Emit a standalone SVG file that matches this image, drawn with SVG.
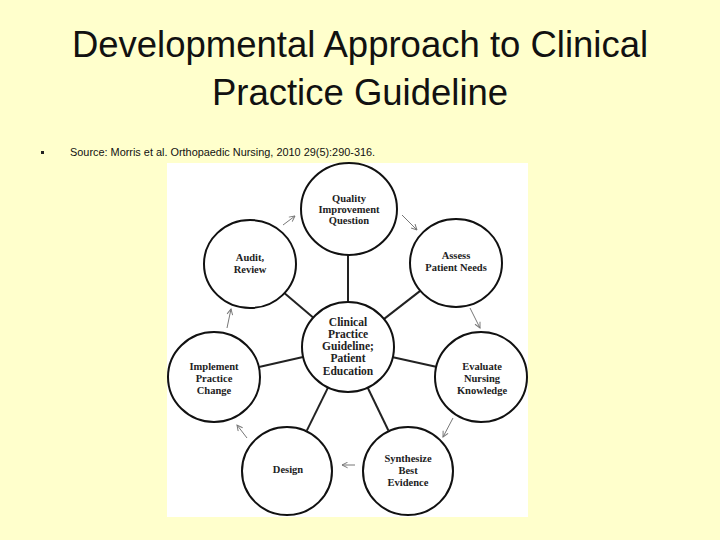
<svg xmlns="http://www.w3.org/2000/svg" width="720" height="540" viewBox="0 0 720 540">
<defs>
<style>
.title{font-family:"Liberation Sans",Arial,sans-serif;font-size:36.5px;fill:#111;text-anchor:middle}
.src{font-family:"Liberation Sans",Arial,sans-serif;font-size:10.9px;fill:#111}
.node ellipse{fill:#fff;stroke:#111;stroke-width:2}
.node text{font-family:"Liberation Serif","Times New Roman",serif;font-size:10.5px;font-weight:bold;fill:#222;text-anchor:middle}
#center text{font-size:11.5px}
.spoke{stroke:#222;stroke-width:2;fill:none}
.arr{stroke:#777;stroke-width:1;fill:none;marker-end:url(#ah)}
</style>
<marker id="ah" viewBox="0 0 10 10" refX="9" refY="5" markerWidth="7" markerHeight="7" orient="auto" markerUnits="userSpaceOnUse">
<path d="M1,1 L9,5 L1,9" fill="none" stroke="#777" stroke-width="1.4"/>
</marker>
</defs>
<rect width="720" height="540" fill="#FFFFCC"/>
<text class="title" x="360" y="57">Developmental Approach to Clinical</text>
<text class="title" x="360" y="105">Practice Guideline</text>
<rect x="41" y="151" width="3" height="3" fill="#222"/>
<text class="src" x="70" y="156">Source: Morris et al. Orthopaedic Nursing, 2010 29(5):290-316.</text>
<rect x="167" y="163" width="361" height="354" fill="#fff"/>
<g id="connectors">
<line class="spoke" x1="348" y1="302" x2="348" y2="254"/>
<line class="spoke" x1="383.5" y1="319.4" x2="420.5" y2="290.6"/>
<line class="spoke" x1="391.9" y1="356.9" x2="437.1" y2="367.1"/>
<line class="spoke" x1="367.6" y1="387.5" x2="388.4" y2="430.5"/>
<line class="spoke" x1="328.1" y1="387.4" x2="306.8" y2="430.6"/>
<line class="spoke" x1="304.1" y1="356.8" x2="257.9" y2="367.2"/>
<line class="spoke" x1="313.7" y1="317.9" x2="284.3" y2="293.1"/>
<line class="arr" x1="283" y1="225" x2="295" y2="216"/>
<line class="arr" x1="402" y1="215" x2="417" y2="230"/>
<line class="arr" x1="470" y1="308" x2="480" y2="328"/>
<line class="arr" x1="453" y1="418" x2="443" y2="437"/>
<line class="arr" x1="355" y1="465" x2="342" y2="465"/>
<line class="arr" x1="247" y1="438" x2="237" y2="425"/>
<line class="arr" x1="227" y1="328" x2="231" y2="309"/>
</g>
<g id="quality" class="node"><ellipse cx="349" cy="209" rx="48" ry="46"/>
<text x="349" y="202">Quality</text><text x="349" y="213">Improvement</text><text x="349" y="224">Question</text></g>
<g id="assess" class="node"><ellipse cx="456" cy="263" rx="46" ry="44"/>
<text x="456" y="259">Assess</text><text x="456" y="271">Patient Needs</text></g>
<g id="evaluate" class="node"><ellipse cx="481" cy="377" rx="46" ry="45"/>
<text x="482" y="370">Evaluate</text><text x="482" y="382">Nursing</text><text x="482" y="394">Knowledge</text></g>
<g id="synthesize" class="node"><ellipse cx="408" cy="471" rx="45" ry="44"/>
<text x="408" y="462">Synthesize</text><text x="408" y="474">Best</text><text x="408" y="486">Evidence</text></g>
<g id="design" class="node"><ellipse cx="287" cy="471" rx="45" ry="44"/>
<text x="288" y="473">Design</text></g>
<g id="implement" class="node"><ellipse cx="214" cy="377" rx="46" ry="45"/>
<text x="214" y="370">Implement</text><text x="214" y="382">Practice</text><text x="214" y="394">Change</text></g>
<g id="audit" class="node"><ellipse cx="250" cy="264" rx="46" ry="44"/>
<text x="250" y="261">Audit,</text><text x="250" y="273">Review</text></g>
<g id="center" class="node"><ellipse cx="348" cy="347" rx="46" ry="45"/>
<text x="348" y="326">Clinical</text><text x="348" y="338">Practice</text><text x="348" y="350">Guideline;</text><text x="348" y="362">Patient</text><text x="348" y="375">Education</text></g>
</svg>
